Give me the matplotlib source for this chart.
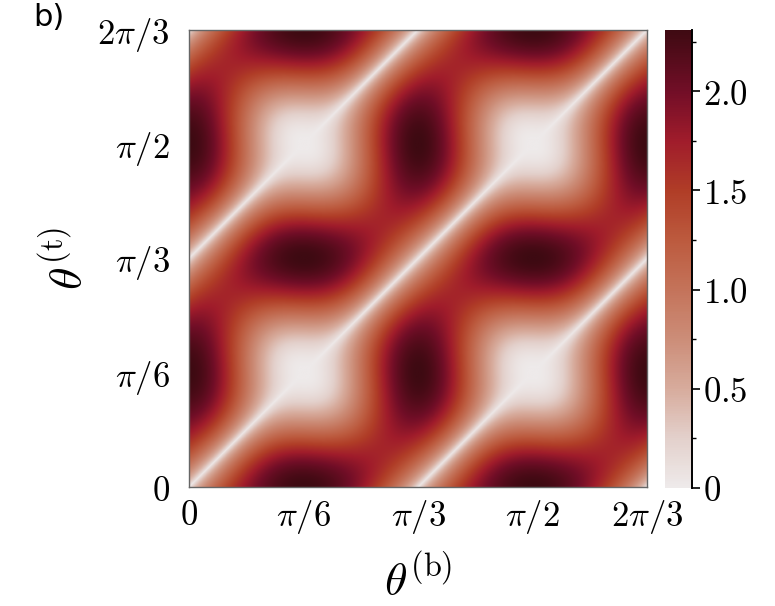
import numpy as np
import matplotlib
matplotlib.use("Agg")
import matplotlib.pyplot as plt
from matplotlib.colors import LinearSegmentedColormap

# 字体：刻度和坐标轴用 Computer Modern 风格
plt.rcParams["mathtext.fontset"] = "cm"
plt.rcParams["font.family"] = ["DejaVu Sans"]

# 坐标轴刻度 (θ 的取值范围 0 ~ 2π/3)
theta_ticks = [0, np.pi / 6, np.pi / 3, np.pi / 2, 2 * np.pi / 3]
theta_labels = [r"$0$", r"$\pi/6$", r"$\pi/3$", r"$\pi/2$", r"$2\pi/3$"]

# 色标
cbar_ticks = [0, 0.5, 1.0, 1.5, 2.0]
cbar_labels = [r"$0$", r"$0.5$", r"$1.0$", r"$1.5$", r"$2.0$"]
vmin, vmax = 0.0, 2.31

# 特征值
peak_value = 2.31     # 深色椭圆中心的值
mid_value = 1.35      # 两个深色椭圆之间的值
line_power = 0.7      # 对角白线附近上升的快慢
env_power = 0.85      # 浅色方块边缘的陡峭程度
period = np.pi / 3    # 图案在两个方向上的周期

# 颜色 (从色标上取样)
cmap_values = [0.0, 0.25, 0.5, 0.75, 1.0, 1.25, 1.5, 1.75, 2.0, 2.31]
cmap_colors = ["#eeeaea", "#e3d0cb", "#d7ab9c", "#cc8d78", "#c4735a",
               "#bc5a3e", "#b03d27", "#a01c2b", "#720e27", "#3e0a12"]


def make_field(n=800):
    th = np.linspace(0, 2 * np.pi / 3, n)
    tb, tt = np.meshgrid(th, th)
    u = 2 * np.pi * tb / period
    v = 2 * np.pi * tt / period
    # 包络：沿 θt = θb ± π/6 方向上的强度 (归一化到 1)
    g_mid = (mid_value / peak_value) ** (1 / env_power)
    env = (0.75 + 0.25 * (np.cos(u) + np.cos(v))
           - 0.25 * np.cos(u) * np.cos(v)
           + (0.75 - g_mid) * np.sin(u) * np.sin(v))
    env = np.clip(env, 0, None) ** env_power
    return peak_value * env * np.abs(np.sin((u - v) / 2)) ** line_power


def main():
    cmap = LinearSegmentedColormap.from_list(
        "reds", list(zip(np.array(cmap_values) / vmax, cmap_colors)))

    fig = plt.figure(figsize=(7.75, 6.06), dpi=100)
    ax = fig.add_axes([0.244, 0.196, 0.591, 0.755])
    cax = fig.add_axes([0.858, 0.195, 0.035, 0.756])

    field = make_field()
    im = ax.imshow(field, origin="lower", cmap=cmap, vmin=vmin, vmax=vmax,
                   extent=[0, 2 * np.pi / 3, 0, 2 * np.pi / 3],
                   interpolation="bilinear", aspect="auto")

    ax.set_xticks(theta_ticks)
    ax.set_xticklabels(theta_labels)
    ax.set_yticks(theta_ticks)
    ax.set_yticklabels(theta_labels)
    ax.tick_params(length=0, labelsize=25, pad=8)
    ax.tick_params(axis="y", pad=14)
    for sp in ax.spines.values():
        sp.set_color("#666666")
        sp.set_linewidth(1.0)

    ax.set_xlabel(r"$\theta^{(\mathrm{b})}$", fontsize=33, labelpad=14)
    ax.set_ylabel(r"$\theta^{(\mathrm{t})}$", fontsize=33, labelpad=4)

    cbar = fig.colorbar(im, cax=cax)
    cbar.set_ticks(cbar_ticks)
    cbar.set_ticklabels(cbar_labels)
    cbar.ax.yaxis.set_minor_locator(matplotlib.ticker.MultipleLocator(0.25))
    cbar.ax.tick_params(which="major", length=6, width=1.2, labelsize=25, pad=2)
    cbar.ax.tick_params(which="minor", length=3, width=1.0)
    cbar.outline.set_visible(False)
    cbar.ax.axvline(1.0, color="black", lw=1.4, clip_on=False)

    fig.text(0.043, 0.995, "b)", fontsize=22, va="top", ha="left")

    fig.savefig("out.png", dpi=100)


if __name__ == "__main__":
    main()
